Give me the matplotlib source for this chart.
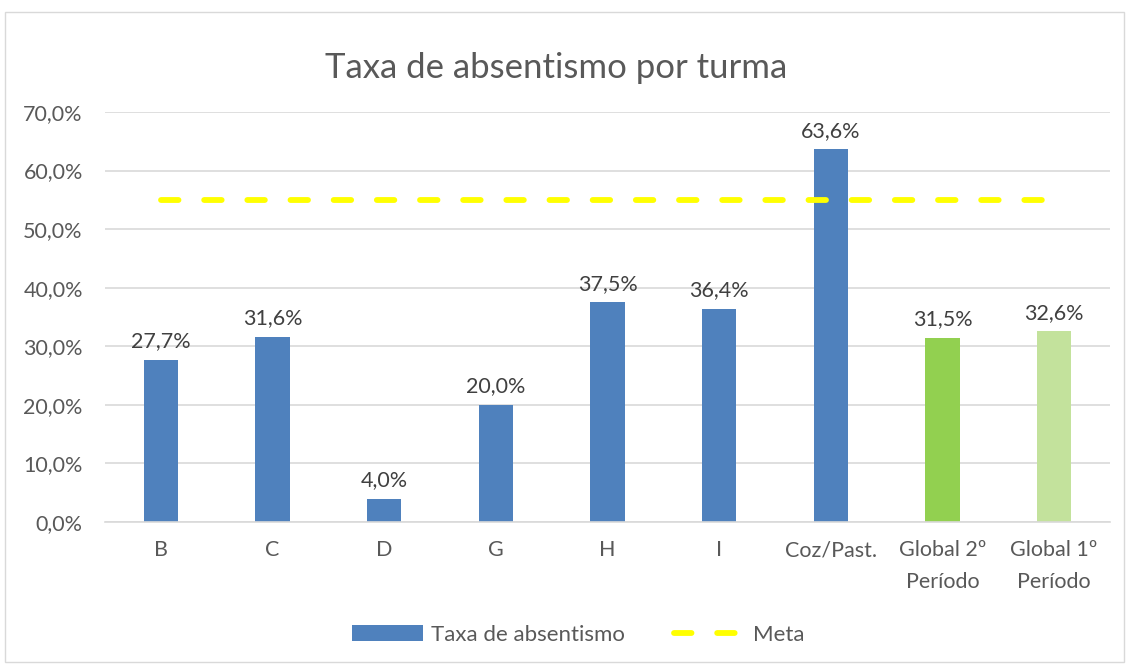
import matplotlib.pyplot as plt
from matplotlib.patches import Rectangle, Patch
from matplotlib.lines import Line2D

plt.rcParams["font.family"] = ["Lato", "DejaVu Sans"]

categories = ["B", "C", "D", "G", "H", "I", "Coz/Past.", "Global 2º\nPeríodo", "Global 1º\nPeríodo"]
taxa = [27.7, 31.6, 4.0, 20.0, 37.5, 36.4, 63.6, 31.5, 32.6]
meta = [55.0] * len(categories)
bar_colors = ["#4F81BD"] * 7 + ["#92D050", "#C3E29C"]

text_color = "#595959"
grid_color = "#D9D9D9"
fs = 15.5

fig = plt.figure(figsize=(11.29, 6.67), dpi=100)
ax = fig.add_axes([105 / 1129, 1 - 522 / 667, (1110 - 105) / 1129, (522 - 112) / 667])

x = list(range(len(categories)))
ax.bar(x, taxa, width=0.31, color=bar_colors, zorder=2)
ax.plot(x, meta, color="#FFFF00", linewidth=4.2, dashes=(3, 4.4),
        dash_capstyle="round", zorder=3)

for xi, value in zip(x, taxa):
    ax.annotate(f"{value:.1f}%".replace(".", ","), (xi, value), xytext=(0, 6),
                textcoords="offset points", ha="center", va="bottom",
                fontsize=fs, color="#404040")

ax.set_xlim(-0.5, len(categories) - 0.5)
ax.set_ylim(0, 70)
ax.set_yticks(range(0, 71, 10))
ax.set_yticklabels([f"{v},0%" for v in range(0, 71, 10)])
ax.set_xticks(x)
ax.set_xticklabels(categories, linespacing=1.75)
ax.tick_params(axis="y", length=0, pad=16, labelsize=fs, labelcolor=text_color)
ax.tick_params(axis="x", length=0, pad=13, labelsize=fs, labelcolor=text_color)
ax.grid(axis="y", color=grid_color, linewidth=1.2, zorder=0)
for side in ["top", "right", "left"]:
    ax.spines[side].set_visible(False)
ax.spines["bottom"].set_color(grid_color)
ax.spines["bottom"].set_linewidth(1.2)
ax.set_axisbelow(True)

fig.text(556 / 1129, 1 - 68 / 667, "Taxa de absentismo por turma", ha="center",
         va="center", fontsize=25, color=text_color)

handles = [
    Patch(facecolor="#4F81BD", label="Taxa de absentismo"),
    Line2D([], [], color="#FFFF00", linewidth=4.2, dashes=(3, 4.4),
           dash_capstyle="round", label="Meta"),
]
fig.legend(handles=handles, loc="center", bbox_to_anchor=(578 / 1129, 1 - 635 / 667),
           ncol=2, frameon=False, fontsize=16, labelcolor=text_color,
           handlelength=3.2, handleheight=0.7, columnspacing=2.2, handletextpad=0.35)

fig.patches.append(Rectangle((5 / 1129, 1 - 662 / 667), (1124 - 5) / 1129, (662 - 12) / 667,
                             transform=fig.transFigure, fill=False,
                             edgecolor="#D9D9D9", linewidth=1))

fig.savefig("out.png", dpi=100)
